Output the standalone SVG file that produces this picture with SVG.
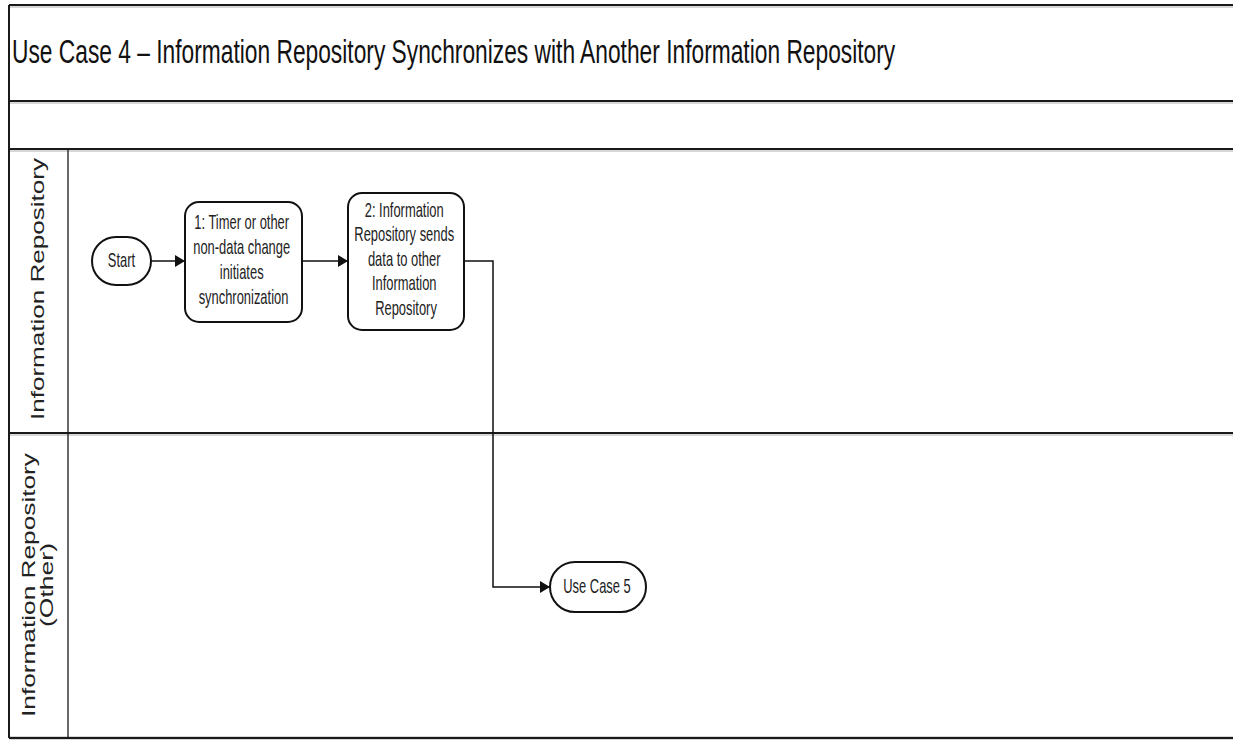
<svg xmlns="http://www.w3.org/2000/svg" width="1233" height="740" viewBox="0 0 1233 740">
  <style>
    .frame { fill: none; stroke: #1a1a1a; stroke-width: 2; }
    .frame-halo { fill: none; stroke: #b0b0b0; stroke-width: 4; }
    .divider { fill: none; stroke: #1a1a1a; stroke-width: 1.3; }
    .node { fill: #ffffff; stroke: #111111; stroke-width: 2; }
    .label { font-family: "Liberation Sans", Arial, sans-serif; font-size: 20px; fill: #222222; text-anchor: middle; }
    .lane { font-family: "Liberation Sans", Arial, sans-serif; font-size: 19px; fill: #222222; text-anchor: middle; }
    .title { font-family: "Liberation Sans", Arial, sans-serif; font-size: 33px; fill: #111111; }
    .conn { fill: none; stroke: #111111; stroke-width: 1.5; }
  </style>
  <defs>
    <marker id="arrow" viewBox="0 0 10 12" refX="10" refY="6" markerWidth="10" markerHeight="12" markerUnits="userSpaceOnUse" orient="auto">
      <path d="M0,0 L10,6 L0,12 Z" fill="#111111"/>
    </marker>
  </defs>

  <rect x="0" y="0" width="1233" height="740" fill="#ffffff"/>

  <!-- pool frame: title band, empty band, two swimlanes -->
  <g id="frame">
    <path class="frame-halo" d="M9,6 H1233 M9,102 H1233 M9,150 H1233 M9,434 H1233 M9,738 H1233" opacity="0.5"/>
    <path class="frame" d="M9,5 H1233 M9,101 H1233 M9,149 H1233 M9,433 H1233 M9,738 H1233"/>
    <path class="frame" d="M9,5 V738"/>
    <path class="divider" d="M68,149 V738"/>
  </g>

  <!-- condensed title: narrowed horizontally -->
  <g id="title">
    <text class="title" transform="translate(12,63) scale(0.69,1)" x="0" y="0">Use Case 4 – Information Repository Synchronizes with Another Information Repository</text>
  </g>

  <g id="lane-information-repository">
    <text class="lane" transform="translate(44,289) rotate(-90)" x="0" y="0" textLength="262" lengthAdjust="spacingAndGlyphs">Information Repository</text>
  </g>

  <g id="lane-information-repository-other">
    <text class="lane" transform="translate(35,585) rotate(-90)" x="0" y="0" textLength="264" lengthAdjust="spacingAndGlyphs">Information Repository</text>
    <text class="lane" transform="translate(53,585) rotate(-90)" x="0" y="0" textLength="84" lengthAdjust="spacingAndGlyphs">(Other)</text>
  </g>

  <!-- connectors -->
  <g id="connectors">
    <path class="conn" d="M151,261 H185" marker-end="url(#arrow)"/>
    <path class="conn" d="M302,261 H348" marker-end="url(#arrow)"/>
    <path class="conn" d="M464,261 H493 V587 H550" marker-end="url(#arrow)"/>
  </g>

  <g id="start">
    <rect class="node" x="92" y="237" width="59" height="48" rx="24" ry="24"/>
    <text class="label" transform="translate(121.5,267) scale(0.646,1)">Start</text>
  </g>

  <g id="step-1">
    <rect class="node" x="185" y="202" width="117" height="120" rx="14" ry="14"/>
    <text class="label" transform="translate(243.5,229) scale(0.646,1)">
      <tspan x="0" y="0">1: Timer or other</tspan>
      <tspan x="0" y="25">non-data change</tspan>
      <tspan x="0" y="50">initiates</tspan>
      <tspan x="0" y="75">synchronization</tspan>
    </text>
  </g>

  <g id="step-2">
    <rect class="node" x="348" y="193" width="116" height="137" rx="14" ry="14"/>
    <text class="label" transform="translate(406,217) scale(0.646,1)">
      <tspan x="0" y="0">2: Information</tspan>
      <tspan x="0" y="24.5">Repository sends</tspan>
      <tspan x="0" y="49">data to other</tspan>
      <tspan x="0" y="73.5">Information</tspan>
      <tspan x="0" y="98">Repository</tspan>
    </text>
  </g>

  <g id="use-case-5">
    <rect class="node" x="550" y="562" width="96" height="50" rx="25" ry="25"/>
    <text class="label" transform="translate(597,593) scale(0.646,1)">Use Case 5</text>
  </g>
</svg>
